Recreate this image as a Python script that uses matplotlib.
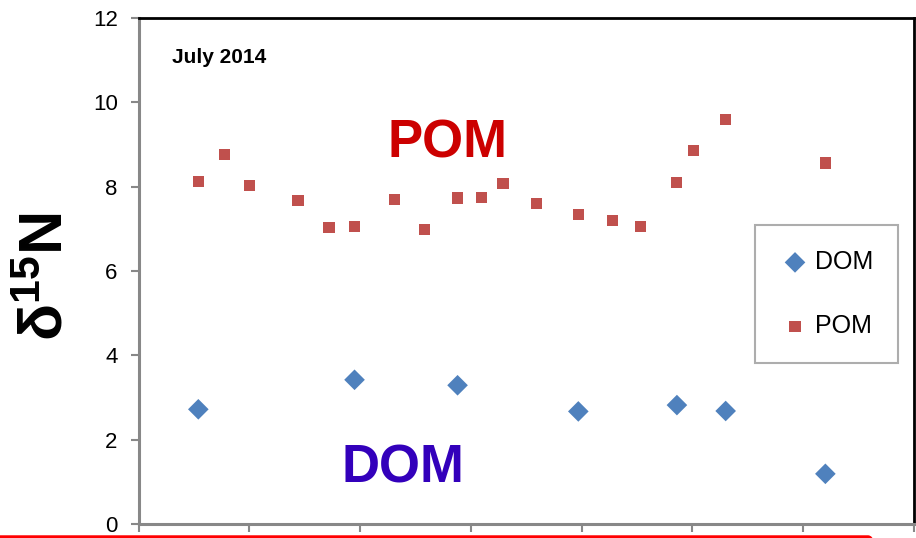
import matplotlib
matplotlib.use("Agg")
import matplotlib.pyplot as plt
from matplotlib.patches import FancyBboxPatch

# sample position (x) and delta15N values
pom_x = [0.54, 0.78, 1.00, 1.44, 1.72, 1.95, 2.31, 2.58, 2.88, 3.10, 3.29,
         3.59, 3.97, 4.28, 4.53, 4.86, 5.01, 5.30, 6.20]
pom_y = [8.13, 8.77, 8.02, 7.68, 7.03, 7.05, 7.70, 6.98, 7.73, 7.75, 8.08,
         7.61, 7.35, 7.19, 7.05, 8.10, 8.85, 9.60, 8.56]

dom_x = [0.54, 1.95, 2.88, 3.97, 4.86, 5.30, 6.20]
dom_y = [2.72, 3.42, 3.29, 2.67, 2.82, 2.68, 1.19]

y_ticks = [0, 2, 4, 6, 8, 10, 12]

plt.rcParams["font.family"] = "Liberation Sans"
plt.rcParams["mathtext.fontset"] = "custom"
plt.rcParams["mathtext.bf"] = "Liberation Sans:bold"
plt.rcParams["mathtext.rm"] = "Liberation Sans"

fig = plt.figure(figsize=(9.16, 5.38), dpi=100)
ax = fig.add_axes([138.5 / 916, 14 / 538, (914 - 138.5) / 916, 506 / 538])

ax.scatter(dom_x, dom_y, marker="D", s=10.5 ** 2, color="#4F81BD",
           edgecolors="none", label="DOM", zorder=3)
ax.scatter(pom_x, pom_y, marker="s", s=8 ** 2, color="#C0504D",
           edgecolors="none", label="POM", zorder=3)

ax.set_xlim(0, 7)
ax.set_ylim(0, 12)
ax.set_xticks(range(8))
ax.set_xticklabels([])
ax.set_yticks(y_ticks)
ax.set_yticklabels([str(v) for v in y_ticks])
ax.tick_params(axis="both", direction="out", length=6, width=1.5,
               color="#888888", labelsize=16, pad=9)

for side in ["left", "bottom"]:
    ax.spines[side].set_color("#888888")
    ax.spines[side].set_linewidth(2.2)
for side in ["top", "right"]:
    ax.spines[side].set_color("black")
    ax.spines[side].set_linewidth(2)

ax.text(0.30, 10.93, "July 2014", fontsize=15, fontweight="bold",
        ha="left", va="baseline")
ax.text(2.25, 8.70, "POM", fontsize=38, fontweight="bold", color="#CC0000",
        ha="left", va="baseline")
ax.text(1.83, 0.98, "DOM", fontsize=38, fontweight="bold", color="#3300BB",
        ha="left", va="baseline")

leg = ax.legend(loc="upper left", bbox_to_anchor=(0.795, 0.591), fontsize=18,
                frameon=True, fancybox=False, labelspacing=1.6,
                borderpad=1.0, handletextpad=0.2, handlelength=1.2,
                borderaxespad=0)
leg.get_frame().set_edgecolor("#999999")
leg.get_frame().set_linewidth(1.5)

fig.text(47 / 916, 1 - 277 / 538, r"$\mathbf{δ^{15}N}$", fontsize=44,
         rotation=90, ha="center", va="center")

# red frame of the slide peeking in at the bottom
frame = FancyBboxPatch((-0.3, -1.0), 9.1, 1.012,
                       boxstyle="round,pad=0,rounding_size=0.12",
                       transform=fig.dpi_scale_trans, facecolor="none",
                       edgecolor="#FF0000", linewidth=2.2)
fig.patches.append(frame)

fig.savefig("out.png", dpi=100)
